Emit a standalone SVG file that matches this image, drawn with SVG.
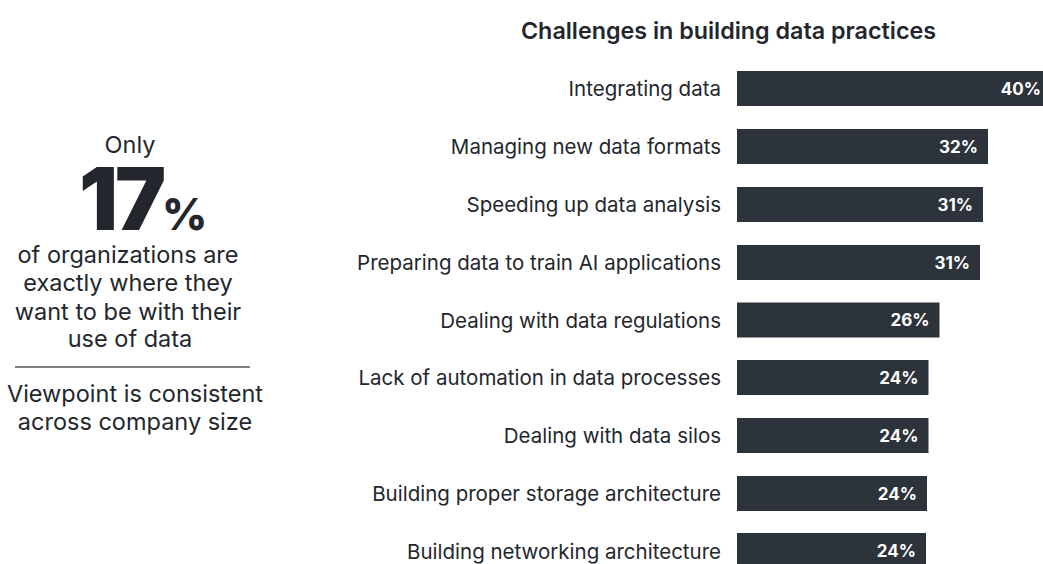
<svg xmlns="http://www.w3.org/2000/svg" width="1043" height="564" viewBox="0 0 1043 564">
<style>
.t{font-family:Inter,"Noto Sans","Liberation Sans",sans-serif;fill:#23272d}
.side{font-size:23.5px;text-anchor:middle}
.lbl{font-size:20.5px;text-anchor:end}
.title{font-size:23.3px;font-weight:600;text-anchor:middle}
.bar{fill:#2c333b}
.pct{font-family:Inter,"Noto Sans","Liberation Sans",sans-serif;font-size:17px;font-weight:700;fill:#ffffff;text-anchor:end}
</style>
<rect width="1043" height="564" fill="#ffffff"/>
<g id="stat">
<text class="t side" x="130" y="153">Only</text>
<text class="t" x="79" y="230" font-size="86" font-weight="900" letter-spacing="-3">17<tspan font-size="44" font-weight="800" letter-spacing="0" dx="-1">%</tspan></text>
<text class="t side" x="128" y="263">of organizations are</text>
<text class="t side" x="128" y="291">exactly where they</text>
<text class="t side" x="128" y="320">want to be with their</text>
<text class="t side" x="130" y="347">use of data</text>
<line x1="15" y1="367" x2="250" y2="367" stroke="#555a60" stroke-width="1.5"/>
<text class="t side" x="135" y="402">Viewpoint is consistent</text>
<text class="t side" x="135" y="430">across company size</text>
</g>
<g id="chart">
<text class="t title" x="728.5" y="39">Challenges in building data practices</text>
<g id="bar1"><text class="t lbl" x="721" y="96">Integrating data</text><rect class="bar" x="737" y="71" width="315" height="35"/><text class="pct" x="1041" y="94.5">40%</text></g>
<g id="bar2"><text class="t lbl" x="721" y="154">Managing new data formats</text><rect class="bar" x="737" y="129" width="251" height="35"/><text class="pct" x="978" y="152.5">32%</text></g>
<g id="bar3"><text class="t lbl" x="721" y="212">Speeding up data analysis</text><rect class="bar" x="737" y="187" width="246" height="35"/><text class="pct" x="973" y="210.5">31%</text></g>
<g id="bar4"><text class="t lbl" x="721" y="270">Preparing data to train AI applications</text><rect class="bar" x="737" y="245" width="243" height="35"/><text class="pct" x="970" y="268.5">31%</text></g>
<g id="bar5"><text class="t lbl" x="721" y="327.5">Dealing with data regulations</text><rect class="bar" x="737" y="302.5" width="202.5" height="35"/><text class="pct" x="929.5" y="326">26%</text></g>
<g id="bar6"><text class="t lbl" x="721" y="385">Lack of automation in data processes</text><rect class="bar" x="737" y="360" width="191.5" height="35"/><text class="pct" x="918.5" y="383.5">24%</text></g>
<g id="bar7"><text class="t lbl" x="721" y="443">Dealing with data silos</text><rect class="bar" x="737" y="418" width="191.5" height="35"/><text class="pct" x="918.5" y="441.5">24%</text></g>
<g id="bar8"><text class="t lbl" x="721" y="501">Building proper storage architecture</text><rect class="bar" x="737" y="476" width="190" height="35"/><text class="pct" x="917" y="499.5">24%</text></g>
<g id="bar9"><text class="t lbl" x="721" y="558.5">Building networking architecture</text><rect class="bar" x="737" y="533" width="189" height="35"/><text class="pct" x="916" y="557">24%</text></g>
</g>
</svg>
